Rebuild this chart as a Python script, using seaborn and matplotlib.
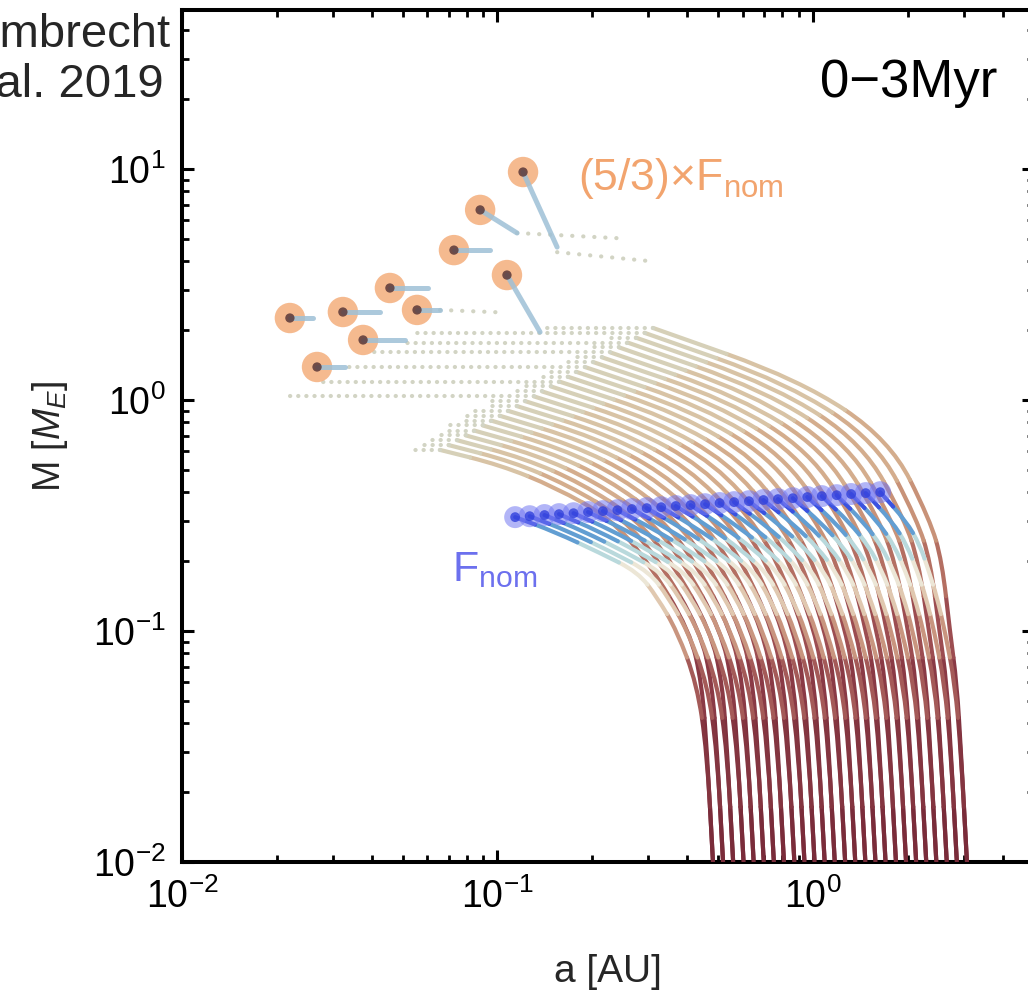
import numpy as np
import matplotlib
matplotlib.use("Agg")
import matplotlib.pyplot as plt
from matplotlib.path import Path
from matplotlib.patches import PathPatch
from matplotlib.collections import PatchCollection
import pandas as pd
import seaborn as sns

sns.set_theme(style="ticks")
plt.rcParams["font.family"] = ["Liberation Sans", "DejaVu Sans"]
plt.rcParams["mathtext.fontset"] = "custom"
plt.rcParams["mathtext.rm"] = "Liberation Sans"
plt.rcParams["mathtext.it"] = "Liberation Sans:italic"
plt.rcParams["mathtext.bf"] = "Liberation Sans:bold"

# ------------------------------------------------------------------
# Growth tracks, stored as log10(a / AU) and log10(M / M_E)
# ------------------------------------------------------------------
# both pebble fluxes: embryo positions at the two lowest masses
level_mass_shared = [0.01, 0.03]
log_a_m001 = [-0.317, -0.285, -0.253, -0.220, -0.188, -0.156, -0.124, -0.092, -0.059,
              -0.027, 0.005, 0.037, 0.069, 0.102, 0.134, 0.166, 0.198, 0.230, 0.263,
              0.295, 0.327, 0.359, 0.391, 0.424, 0.456, 0.488]
log_a_m003 = [-0.336, -0.304, -0.272, -0.239, -0.207, -0.175, -0.143, -0.111, -0.078,
              -0.046, -0.014, 0.018, 0.050, 0.083, 0.115, 0.147, 0.179, 0.211, 0.244,
              0.276, 0.308, 0.340, 0.372, 0.405, 0.437, 0.469]

# nominal flux: positions at fixed masses
nom_mass_levels = [0.059, 0.10, 0.14, 0.18]
nom_log_a_m0059 = [-0.368, -0.335, -0.303, -0.270, -0.237, -0.204, -0.172, -0.139, -0.106,
                   -0.074, -0.041, -0.008, 0.025, 0.057, 0.090, 0.123, 0.156, 0.188, 0.221,
                   0.254, 0.286, 0.319, 0.352, 0.385, 0.417, 0.450]
nom_log_a_m010 = [-0.431, -0.397, -0.363, -0.329, -0.295, -0.261, -0.227, -0.193, -0.159,
                  -0.125, -0.091, -0.057, -0.023, 0.011, 0.044, 0.078, 0.112, 0.146, 0.180,
                  0.214, 0.248, 0.282, 0.316, 0.350, 0.384, 0.418]
nom_log_a_m014 = [-0.494, -0.459, -0.423, -0.388, -0.352, -0.317, -0.281, -0.246, -0.210,
                  -0.175, -0.139, -0.104, -0.068, -0.033, 0.003, 0.038, 0.074, 0.109, 0.145,
                  0.180, 0.216, 0.251, 0.287, 0.322, 0.358, 0.393]
nom_log_a_m018 = [-0.555, -0.518, -0.481, -0.444, -0.407, -0.370, -0.334, -0.297, -0.260,
                  -0.223, -0.186, -0.149, -0.112, -0.075, -0.038, -0.001, 0.036, 0.073, 0.110,
                  0.147, 0.183, 0.220, 0.257, 0.294, 0.331, 0.368]
# nominal flux: bend towards the final position
nom_bend1_log_a = [-0.675, -0.634, -0.594, -0.553, -0.513, -0.472, -0.432, -0.391, -0.351,
                   -0.310, -0.269, -0.229, -0.188, -0.148, -0.107, -0.067, -0.026, 0.015, 0.055,
                   0.096, 0.136, 0.177, 0.217, 0.258, 0.298, 0.339]
nom_bend1_log_m = [-0.662, -0.661, -0.659, -0.658, -0.657, -0.655, -0.654, -0.652, -0.651,
                   -0.650, -0.648, -0.647, -0.646, -0.644, -0.643, -0.642, -0.640, -0.639, -0.638,
                   -0.636, -0.635, -0.633, -0.632, -0.631, -0.629, -0.628]
nom_bend2_log_a = [-0.818, -0.774, -0.729, -0.684, -0.640, -0.595, -0.551, -0.506, -0.462,
                   -0.417, -0.373, -0.328, -0.284, -0.239, -0.195, -0.150, -0.106, -0.061, -0.017,
                   0.028, 0.072, 0.117, 0.161, 0.206, 0.251, 0.295]
nom_bend2_log_m = [-0.571, -0.569, -0.567, -0.565, -0.563, -0.562, -0.560, -0.558, -0.556,
                   -0.554, -0.552, -0.550, -0.548, -0.547, -0.545, -0.543, -0.541, -0.539, -0.537,
                   -0.535, -0.533, -0.532, -0.530, -0.528, -0.526, -0.524]
# nominal flux: positions at 3 Myr
nom_end_log_a = [-0.944, -0.898, -0.851, -0.805, -0.759, -0.713, -0.666, -0.620, -0.574,
                 -0.527, -0.481, -0.435, -0.388, -0.342, -0.296, -0.250, -0.203, -0.157, -0.111,
                 -0.064, -0.018, 0.028, 0.075, 0.121, 0.167, 0.213]
nom_end_log_m = [-0.507, -0.503, -0.498, -0.494, -0.490, -0.485, -0.481, -0.477, -0.472,
                 -0.468, -0.464, -0.459, -0.455, -0.451, -0.446, -0.442, -0.438, -0.433, -0.429,
                 -0.425, -0.420, -0.416, -0.412, -0.407, -0.403, -0.399]

# (5/3) x nominal flux: positions at fixed masses
hi_mass_levels = [0.059, 0.10, 0.20]
hi_log_a_m0059 = [-0.352, -0.320, -0.287, -0.255, -0.223, -0.190, -0.158, -0.126, -0.093,
                  -0.061, -0.029, 0.004, 0.036, 0.068, 0.101, 0.133, 0.165, 0.197, 0.230,
                  0.262, 0.294, 0.327, 0.359, 0.391, 0.424, 0.456]
hi_log_a_m010 = [-0.390, -0.357, -0.324, -0.291, -0.258, -0.225, -0.192, -0.159, -0.126,
                 -0.093, -0.060, -0.027, 0.006, 0.039, 0.071, 0.104, 0.137, 0.170, 0.203,
                 0.236, 0.269, 0.302, 0.335, 0.368, 0.401, 0.434]
hi_log_a_m020 = [-0.523, -0.486, -0.448, -0.411, -0.374, -0.337, -0.299, -0.262, -0.225,
                 -0.188, -0.150, -0.113, -0.076, -0.038, -0.001, 0.036, 0.073, 0.111, 0.148,
                 0.185, 0.223, 0.260, 0.297, 0.334, 0.372, 0.409]
# (5/3) x nominal flux: bend up to the isolation plateau
hi_bend1_log_a = [-0.643, -0.602, -0.562, -0.521, -0.481, -0.440, -0.400, -0.359, -0.319,
                  -0.278, -0.237, -0.197, -0.156, -0.116, -0.075, -0.035, 0.006, 0.047, 0.087,
                  0.128, 0.168, 0.209, 0.249, 0.290, 0.330, 0.371]
hi_bend1_log_m = [-0.511, -0.511, -0.512, -0.512, -0.512, -0.513, -0.513, -0.513, -0.514,
                  -0.514, -0.514, -0.515, -0.515, -0.515, -0.516, -0.516, -0.516, -0.516, -0.517,
                  -0.517, -0.517, -0.518, -0.518, -0.518, -0.519, -0.519]
hi_bend2_log_a = [-0.818, -0.776, -0.733, -0.691, -0.648, -0.606, -0.563, -0.521, -0.478,
                  -0.436, -0.393, -0.351, -0.308, -0.266, -0.223, -0.181, -0.138, -0.096, -0.053,
                  -0.011, 0.032, 0.074, 0.117, 0.159, 0.202, 0.244]
hi_bend2_log_m = [-0.377, -0.369, -0.361, -0.353, -0.344, -0.336, -0.328, -0.320, -0.312,
                  -0.304, -0.295, -0.287, -0.279, -0.271, -0.263, -0.255, -0.246, -0.238, -0.230,
                  -0.222, -0.214, -0.206, -0.197, -0.189, -0.181, -0.173]
hi_bend3_log_a = [-0.992, -0.954, -0.916, -0.878, -0.840, -0.802, -0.764, -0.726, -0.688,
                  -0.650, -0.612, -0.574, -0.536, -0.498, -0.459, -0.421, -0.383, -0.345, -0.307,
                  -0.269, -0.231, -0.193, -0.155, -0.117, -0.079, -0.041]
hi_bend3_log_m = [-0.281, -0.266, -0.252, -0.237, -0.222, -0.207, -0.193, -0.178, -0.163,
                  -0.149, -0.134, -0.119, -0.104, -0.090, -0.075, -0.060, -0.046, -0.031, -0.016,
                  -0.001, 0.013, 0.028, 0.043, 0.058, 0.072, 0.087]
hi_plateau_log_a = [-1.182, -1.155, -1.128, -1.101, -1.074, -1.047, -1.020, -0.993, -0.966,
                    -0.939, -0.912, -0.885, -0.858, -0.831, -0.804, -0.777, -0.750, -0.723, -0.696,
                    -0.669, -0.642, -0.615, -0.588, -0.561, -0.534, -0.507]
hi_plateau_log_m = [-0.216, -0.195, -0.174, -0.153, -0.132, -0.110, -0.089, -0.068, -0.047,
                    -0.026, -0.005, 0.016, 0.037, 0.059, 0.080, 0.101, 0.122, 0.143, 0.164,
                    0.185, 0.206, 0.228, 0.249, 0.270, 0.291, 0.312]
# innermost position reached while migrating on the plateau
hi_inner_log_a = [-1.27, -1.25, -1.22, -1.20, -1.17, -1.15, -1.12, -1.10, -1.07, -1.04,
                  -1.02, -1.664, -0.95, -0.92, -1.572, -0.86, -0.83, -1.483, -0.78, -0.76,
                  -1.395, -0.70, -1.293, -0.64, -1.268, -0.865]

# surviving (5/3) x nominal planets at 3 Myr and their late-time streaks
final_log_a = [-0.919, -1.055, -1.138, -0.970, -1.341, -1.490, -1.255, -1.658, -1.426, -1.572]
final_log_m = [0.987, 0.823, 0.649, 0.541, 0.485, 0.381, 0.390, 0.355, 0.260, 0.143]
streak_log_a = [-0.811, -0.938, -1.024, -0.865, -1.220, -1.372, -1.182, -1.585, -1.293, -1.483]
streak_log_m = [0.662, 0.723, 0.649, 0.294, 0.485, 0.381, 0.390, 0.355, 0.260, 0.143]
# sparse fast-migration points leading to some of the survivors
fast_log_a = [[-0.811, -0.507], [-0.938, -0.610], [-1.182, -1.002]]
fast_log_m = [[0.640, 0.600], [0.723, 0.700], [0.390, 0.380]]

# colours at each stored track point (early -> late)
nom_point_colors = ["#7a2c3a", "#843540", "#a45a58", "#c9957f", "#e0c8b0",
                    "#ece6d6", "#b9d9dc", "#629ed2", "#3a52e0"]
hi_point_colors = ["#7a2c3a", "#7e2f3d", "#8a3a45", "#9c4d51", "#b46f62",
                   "#c89278", "#d4ad8d", "#d8c3a5", "#d6d0b8"]
row_color = "#d2d4c4"
streak_color = "#9ec0d6"


def p10(v):
    return np.power(10.0, np.asarray(v, dtype=float))


def smooth_pieces(la, lm):
    """Split a track into pieces joined at mid-points; each stored point is the
    control point of a quadratic Bezier piece, so the drawn track is smooth."""
    la = np.asarray(la, dtype=float)
    lm = np.asarray(lm, dtype=float)
    ma = (la[:-1] + la[1:]) / 2
    mm = (lm[:-1] + lm[1:]) / 2
    n = len(la)
    paths = [Path(p10([[la[0], lm[0]], [ma[0], mm[0]]]), [Path.MOVETO, Path.LINETO])]
    for k in range(1, n - 1):
        verts = p10([[ma[k - 1], mm[k - 1]], [la[k], lm[k]], [ma[k], mm[k]]])
        paths.append(Path(verts, [Path.MOVETO, Path.CURVE3, Path.CURVE3]))
    paths.append(Path(p10([[ma[-1], mm[-1]], [la[-1], lm[-1]]]), [Path.MOVETO, Path.LINETO]))
    return paths


fig = plt.figure(figsize=(10.28, 9.94), dpi=100)
ax = fig.add_axes([182 / 1028, 132 / 994, 851.5 / 1028, 852.4 / 994])
ax.set_xscale("log")
ax.set_yscale("log")
ax.set_xlim(0.01, 5)
ax.set_ylim(0.01, 49)

n_tracks = len(log_a_m001)

# ---- (5/3) x nominal flux tracks ----
hi_patches, hi_cols = [], []
for i in range(n_tracks):
    la = [log_a_m001[i], log_a_m003[i], hi_log_a_m0059[i], hi_log_a_m010[i], hi_log_a_m020[i],
          hi_bend1_log_a[i], hi_bend2_log_a[i], hi_bend3_log_a[i], hi_plateau_log_a[i]]
    lm = list(np.log10(level_mass_shared + hi_mass_levels)) + [
        hi_bend1_log_m[i], hi_bend2_log_m[i], hi_bend3_log_m[i], hi_plateau_log_m[i]]
    for k, pth in enumerate(smooth_pieces(la, lm)):
        hi_patches.append(PathPatch(pth))
        hi_cols.append(hi_point_colors[k])
pc_hi = PatchCollection(hi_patches, facecolors="none", edgecolors=hi_cols,
                        linewidths=3.0, capstyle="round", joinstyle="round", zorder=2)
ax.add_collection(pc_hi)

# plateau migration rows (sparse points)
for i in range(n_tracks):
    ax.plot(p10([hi_plateau_log_a[i], hi_inner_log_a[i]]),
            p10([hi_plateau_log_m[i], hi_plateau_log_m[i]]),
            color=row_color, lw=3.0, ls=(0, (0.05, 1.9)), dash_capstyle="round", zorder=2)
for la, lm in zip(fast_log_a, fast_log_m):
    ax.plot(p10(la), p10(lm), color=row_color, lw=3.0, ls=(0, (0.05, 2.6)),
            dash_capstyle="round", zorder=2)

# ---- nominal flux tracks ----
nom_patches, nom_cols = [], []
for i in range(n_tracks):
    la = [log_a_m001[i], log_a_m003[i], nom_log_a_m0059[i], nom_log_a_m010[i],
          nom_log_a_m014[i], nom_log_a_m018[i], nom_bend1_log_a[i], nom_bend2_log_a[i],
          nom_end_log_a[i]]
    lm = list(np.log10(level_mass_shared + nom_mass_levels)) + [
        nom_bend1_log_m[i], nom_bend2_log_m[i], nom_end_log_m[i]]
    for k, pth in enumerate(smooth_pieces(la, lm)):
        nom_patches.append(PathPatch(pth))
        nom_cols.append(nom_point_colors[k])
pc_nom = PatchCollection(nom_patches, facecolors="none", edgecolors=nom_cols,
                         linewidths=3.0, capstyle="round", joinstyle="round", zorder=3)
ax.add_collection(pc_nom)

# ---- final positions ----
nom_final = pd.DataFrame({"a": p10(nom_end_log_a), "M": p10(nom_end_log_m)})
sns.scatterplot(data=nom_final, x="a", y="M", ax=ax, s=250, color="#7378f2",
                alpha=0.55, edgecolor="none", zorder=4, legend=False)
sns.scatterplot(data=nom_final, x="a", y="M", ax=ax, s=50, color="#3040dc",
                alpha=0.8, edgecolor="none", zorder=5, legend=False)

hi_final = pd.DataFrame({"a": p10(final_log_a), "M": p10(final_log_m)})
sns.scatterplot(data=hi_final, x="a", y="M", ax=ax, s=480, color="#f5b486",
                alpha=0.92, edgecolor="none", zorder=4, legend=False)
for j in range(len(final_log_a)):
    ax.plot(p10([final_log_a[j], streak_log_a[j]]), p10([final_log_m[j], streak_log_m[j]]),
            color=streak_color, lw=3.6, solid_capstyle="round", alpha=0.85, zorder=5)
sns.scatterplot(data=hi_final, x="a", y="M", ax=ax, s=45, color="#5a3838",
                alpha=0.85, edgecolor="none", zorder=6, legend=False)

# ---- labels ----
ax.text(0.465, 0.788, r"(5/3)×F$_{\mathregular{nom}}$", transform=ax.transAxes,
        fontsize=32, color="#f2a46e", va="baseline", ha="left")
ax.text(0.317, 0.330, r"F$_{\mathregular{nom}}$", transform=ax.transAxes,
        fontsize=31, color="#6c70ee", va="baseline", ha="left")
ax.text(0.957, 0.897, "0\u22123Myr", transform=ax.transAxes, fontsize=38,
        color="black", va="baseline", ha="right")
fig.text(170 / 1028, 1 - 47 / 994, "Lambrecht", fontsize=34, ha="right", va="baseline")
fig.text(164 / 1028, 1 - 97 / 994, "et al. 2019", fontsize=34, ha="right", va="baseline")

ax.set_xlabel("a [AU]", fontsize=28, labelpad=27)
ax.set_ylabel(r"M [$M_E$]", fontsize=27, labelpad=16)

for sp in ax.spines.values():
    sp.set_linewidth(2.9)
    sp.set_color("black")
    sp.set_visible(True)
ax.tick_params(which="both", direction="in", top=True, right=True, colors="black")
ax.tick_params(which="major", length=8.5, width=2.2, labelsize=27, pad=12)
ax.tick_params(which="minor", length=5, width=2.0)

fig.savefig("out.png", dpi=100)
